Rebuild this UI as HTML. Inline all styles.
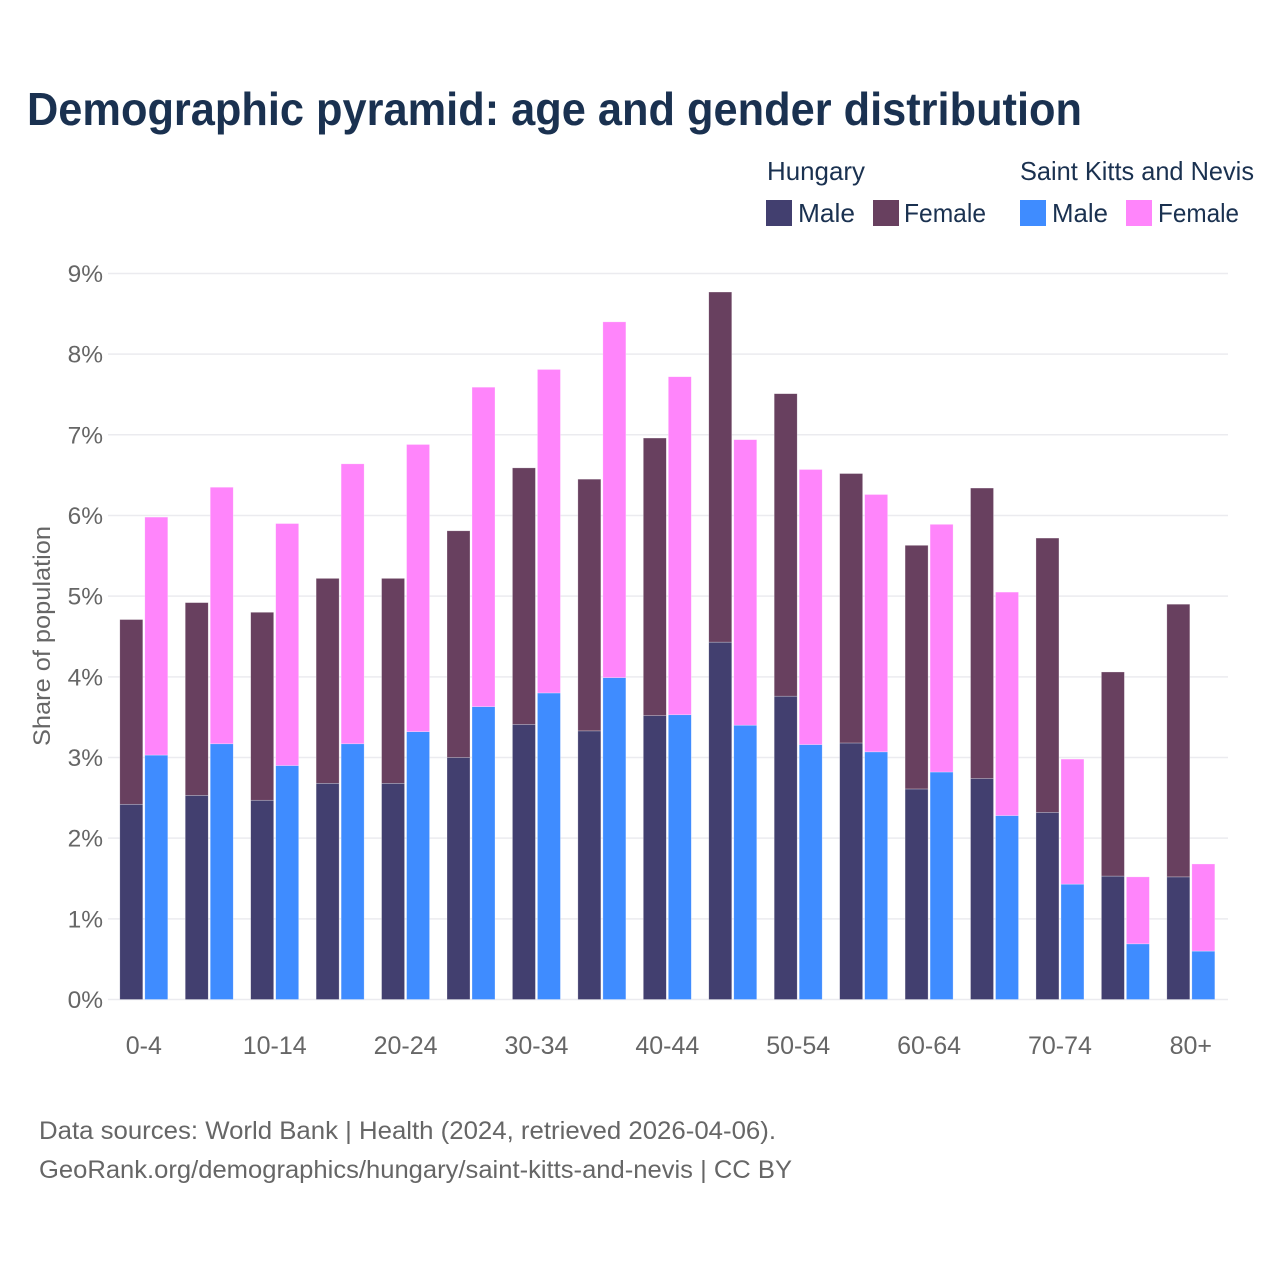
<!DOCTYPE html>
<html lang="en">
<head>
<meta charset="utf-8">
<title>Demographic pyramid: age and gender distribution</title>
<style>
html,body{margin:0;padding:0;background:#fff;width:1280px;height:1280px;overflow:hidden}
svg{display:block}
text{font-family:"Liberation Sans",sans-serif}
</style>
</head>
<body>
<svg id="chart" xmlns="http://www.w3.org/2000/svg" width="1280" height="1280" viewBox="0 0 1280 1280">
  <rect x="0" y="0" width="1280" height="1280" fill="#ffffff"/>
  <text x="27" y="125" font-size="46" font-weight="700" fill="#1a3150" textLength="1055" lengthAdjust="spacingAndGlyphs">Demographic pyramid: age and gender distribution</text>

  <g font-size="26" fill="#1a3150">
    <text x="767" y="180" textLength="98" lengthAdjust="spacingAndGlyphs">Hungary</text>
    <text x="1020" y="180" textLength="234" lengthAdjust="spacingAndGlyphs">Saint Kitts and Nevis</text>
    <rect x="766" y="200" width="26" height="26" fill="#423f6f"/>
    <text x="798" y="222" textLength="57" lengthAdjust="spacingAndGlyphs">Male</text>
    <rect x="873" y="200" width="26" height="26" fill="#68405f"/>
    <text x="904" y="222" textLength="82" lengthAdjust="spacingAndGlyphs">Female</text>
    <rect x="1020" y="200" width="26" height="26" fill="#3f8cff"/>
    <text x="1052" y="222" textLength="56" lengthAdjust="spacingAndGlyphs">Male</text>
    <rect x="1126" y="200" width="26" height="26" fill="#ff85fb"/>
    <text x="1158" y="222" textLength="81" lengthAdjust="spacingAndGlyphs">Female</text>
  </g>

  <g id="grid"></g>
  <g id="bars"></g>
  <g id="yticks" font-size="24.5" fill="#666666" text-anchor="end"></g>
  <g id="xticks" font-size="25" fill="#666666" text-anchor="middle"></g>

  <text transform="translate(50,636) rotate(-90)" text-anchor="middle" font-size="24" fill="#666666" textLength="220" lengthAdjust="spacingAndGlyphs">Share of population</text>

  <text x="39" y="1139" font-size="25" fill="#666666" textLength="737" lengthAdjust="spacingAndGlyphs">Data sources: World Bank | Health (2024, retrieved 2026-04-06).</text>
  <text x="39" y="1178" font-size="25" fill="#666666" textLength="753" lengthAdjust="spacingAndGlyphs">GeoRank.org/demographics/hungary/saint-kitts-and-nevis | CC BY</text>
</svg>
<script>
const categories = ["0-4","5-9","10-14","15-19","20-24","25-29","30-34","35-39","40-44","45-49","50-54","55-59","60-64","65-69","70-74","75-79","80+"];
const hungaryMale = [2.42,2.53,2.47,2.68,2.68,3.00,3.41,3.33,3.52,4.43,3.76,3.18,2.61,2.74,2.32,1.53,1.52];
const hungaryFemale = [2.29,2.39,2.33,2.54,2.54,2.81,3.18,3.12,3.44,4.34,3.75,3.34,3.02,3.60,3.40,2.53,3.38];
const sknMale = [3.03,3.17,2.90,3.17,3.32,3.63,3.80,3.99,3.53,3.40,3.16,3.07,2.82,2.28,1.43,0.69,0.60];
const sknFemale = [2.95,3.18,3.00,3.47,3.56,3.96,4.01,4.41,4.19,3.54,3.41,3.19,3.07,2.77,1.55,0.83,1.08];
const yTicks = [0,1,2,3,4,5,6,7,8,9];

const NS = "http://www.w3.org/2000/svg";
const yScale = v => 999.5 - v * 80.67;
const xScale = i => 119.8 + i * 65.44;
const barWidth = 23;
const barOffset = 25;

function makeBar(x, base, value, fill) {
  const el = document.createElementNS(NS, "rect");
  el.setAttribute("x", x);
  el.setAttribute("y", yScale(base + value));
  el.setAttribute("width", barWidth);
  el.setAttribute("height", yScale(base) - yScale(base + value));
  el.setAttribute("fill", fill);
  el.setAttribute("stroke", "#ffffff");
  el.setAttribute("stroke-opacity", "0.45");
  el.setAttribute("stroke-width", "0.6");
  return el;
}

const grid = document.getElementById("grid");
const yGroup = document.getElementById("yticks");
yTicks.forEach(t => {
  const line = document.createElementNS(NS, "line");
  
  
  line.setAttribute("x1", 108);
  line.setAttribute("x2", 1228);
  line.setAttribute("y1", yScale(t));
  line.setAttribute("y2", yScale(t));
  line.setAttribute("stroke", "#ebebef");
  line.setAttribute("stroke-width", "1.5");
  grid.appendChild(line);
  const label = document.createElementNS(NS, "text");
  
  
  label.setAttribute("x", 103);
  label.setAttribute("y", yScale(t) + 8.5);
  label.textContent = t + "%";
  yGroup.appendChild(label);
});

const bars = document.getElementById("bars");
const xGroup = document.getElementById("xticks");
categories.forEach((c, i) => {
  const x0 = xScale(i);
  const hm = makeBar(x0, 0, hungaryMale[i], "#423f6f");
  
  
  bars.appendChild(hm);
  const hf = makeBar(x0, hungaryMale[i], hungaryFemale[i], "#68405f");
  
  
  bars.appendChild(hf);
  const sm = makeBar(x0 + barOffset, 0, sknMale[i], "#3f8cff");
  
  
  bars.appendChild(sm);
  const sf = makeBar(x0 + barOffset, sknMale[i], sknFemale[i], "#ff85fb");
  
  
  bars.appendChild(sf);
  if (i % 2 === 0) {
    const label = document.createElementNS(NS, "text");
    
    
    label.setAttribute("x", x0 + 24);
    label.setAttribute("y", 1054);
    label.textContent = c;
    xGroup.appendChild(label);
  }
});
</script>
</body>
</html>
